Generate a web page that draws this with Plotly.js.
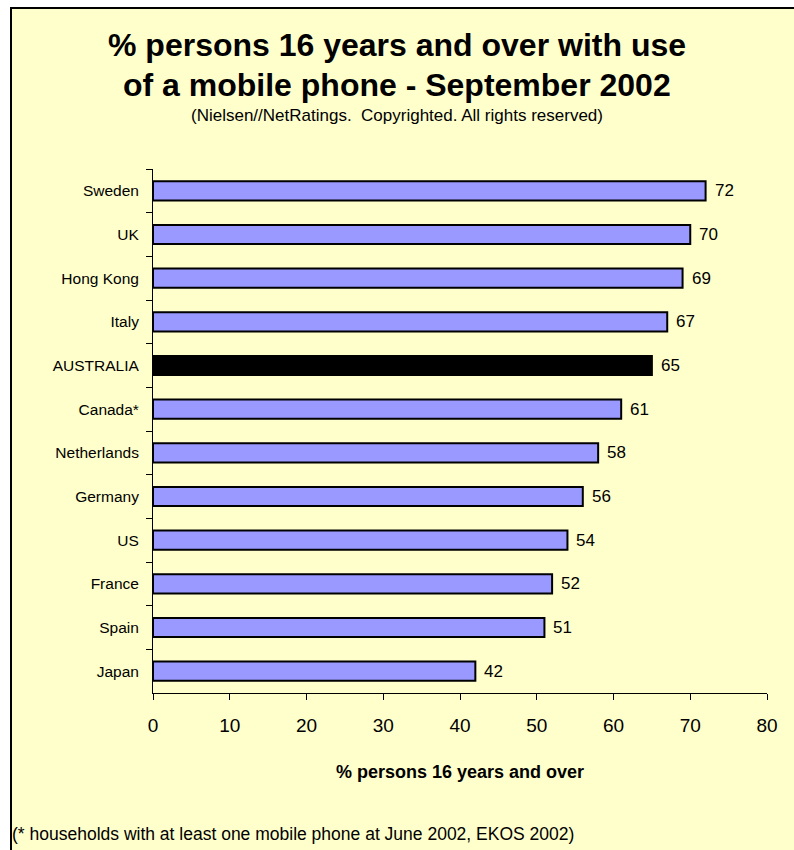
<!DOCTYPE html>
<html>
<head>
<meta charset="utf-8">
<script src="https://cdn.plot.ly/plotly-3.0.1.min.js"></script>
<style>html,body{margin:0;padding:0;background:#fff;}#chart{width:794px;height:850px;}</style>
</head>
<body>
<div id="chart"></div>
<script>
const countries = ["Sweden","UK","Hong Kong","Italy","AUSTRALIA","Canada*","Netherlands","Germany","US","France","Spain","Japan"];
const values = [72,70,69,67,65,61,58,56,54,52,51,42];
const highlight = "AUSTRALIA";
const xTickVals = [0,10,20,30,40,50,60,70,80];
const titleLines = ["% persons 16 years and over with use", "of a mobile phone - September 2002"];
const subtitle = "(Nielsen//NetRatings.  Copyrighted. All rights reserved)";
const footnote = "(* households with at least one mobile phone at June 2002, EKOS 2002)";
const xTitle = "% persons 16 years and over";

const L = 153, R = 27, T = 169, B = 157;
const W = 794, H = 850;
const pw = W - L - R, ph = H - T - B;
const px = v => (v - L) / pw;
const py = v => (H - B - v) / ph;

const FONT = "Liberation Sans, Arial, sans-serif";

const trace = {
  type: "bar",
  orientation: "h",
  y: countries,
  x: values,
  width: 0.44,
  marker: {
    color: countries.map(c => c === highlight ? "#000000" : "#9999FF"),
    line: {color: "#000000", width: 2}
  },
  hoverinfo: "none"
};

const valueAnnotations = countries.map((c, i) => ({
  text: String(values[i]), xref: "x", yref: "y", x: values[i], y: c,
  xanchor: "left", yanchor: "middle", xshift: 7, showarrow: false,
  font: {family: FONT, size: 17, color: "#000"}
}));

const layout = {
  width: W, height: H,
  margin: {l: L, r: R, t: T, b: B, pad: 0},
  paper_bgcolor: "#FFFFCC",
  plot_bgcolor: "rgba(0,0,0,0)",
  showlegend: false,
  font: {family: FONT, color: "#000"},
  xaxis: {
    range: [0, 80],
    tickvals: xTickVals,
    ticktext: xTickVals.map(String),
    showgrid: false, zeroline: false,
    showline: true, linecolor: "#000", linewidth: 1,
    ticks: "outside", ticklen: 6, tickcolor: "#000",
    tickfont: {family: FONT, size: 19, color: "#000"},
    ticklabelstandoff: 9,
    title: {text: "<b>" + xTitle + "</b>", font: {family: FONT, size: 18, color: "#000"}, standoff: 30}
  },
  yaxis: {
    type: "category",
    autorange: "reversed",
    showgrid: false, zeroline: false,
    showline: true, linecolor: "#000", linewidth: 1,
    ticks: "outside", ticklen: 6, tickcolor: "#000",
    tickson: "boundaries",
    tickfont: {family: FONT, size: 15.5, color: "#000"},
    ticklabelstandoff: 10
  },
  shapes: [
    {type: "rect", xref: "paper", yref: "paper", x0: px(-5), x1: px(W + 5), y0: py(-5), y1: py(8), fillcolor: "#ffffff", line: {width: 0}, layer: "below"},
    {type: "rect", xref: "paper", yref: "paper", x0: px(-5), x1: px(11), y0: py(H + 5), y1: py(-5), fillcolor: "#ffffff", line: {width: 0}, layer: "below"},
    {type: "line", xref: "paper", yref: "paper", x0: px(10), x1: px(W + 5), y0: py(8), y1: py(8), line: {color: "#000", width: 2}},
    {type: "line", xref: "paper", yref: "paper", x0: px(11), x1: px(11), y0: py(7), y1: py(H + 5), line: {color: "#000", width: 2}}
  ],
  annotations: [
    {text: "<b>" + titleLines[0] + "</b>", xref: "paper", yref: "paper",
     x: px(397), y: py(45), xanchor: "center", yanchor: "middle", showarrow: false,
     font: {family: FONT, size: 32, color: "#000"}},
    {text: "<b>" + titleLines[1] + "</b>", xref: "paper", yref: "paper",
     x: px(397), y: py(85), xanchor: "center", yanchor: "middle", showarrow: false,
     font: {family: FONT, size: 32, color: "#000"}},
    {text: subtitle, xref: "paper", yref: "paper",
     x: px(397), y: py(115), xanchor: "center", yanchor: "middle", showarrow: false,
     font: {family: FONT, size: 17, color: "#000"}},
    {text: footnote, xref: "paper", yref: "paper",
     x: px(10), y: py(834), xanchor: "left", yanchor: "middle", showarrow: false,
     font: {family: FONT, size: 17.5, color: "#000"}}
  ].concat(valueAnnotations)
};

Plotly.newPlot("chart", [trace], layout, {displayModeBar: false, staticPlot: true});
</script>
</body>
</html>
